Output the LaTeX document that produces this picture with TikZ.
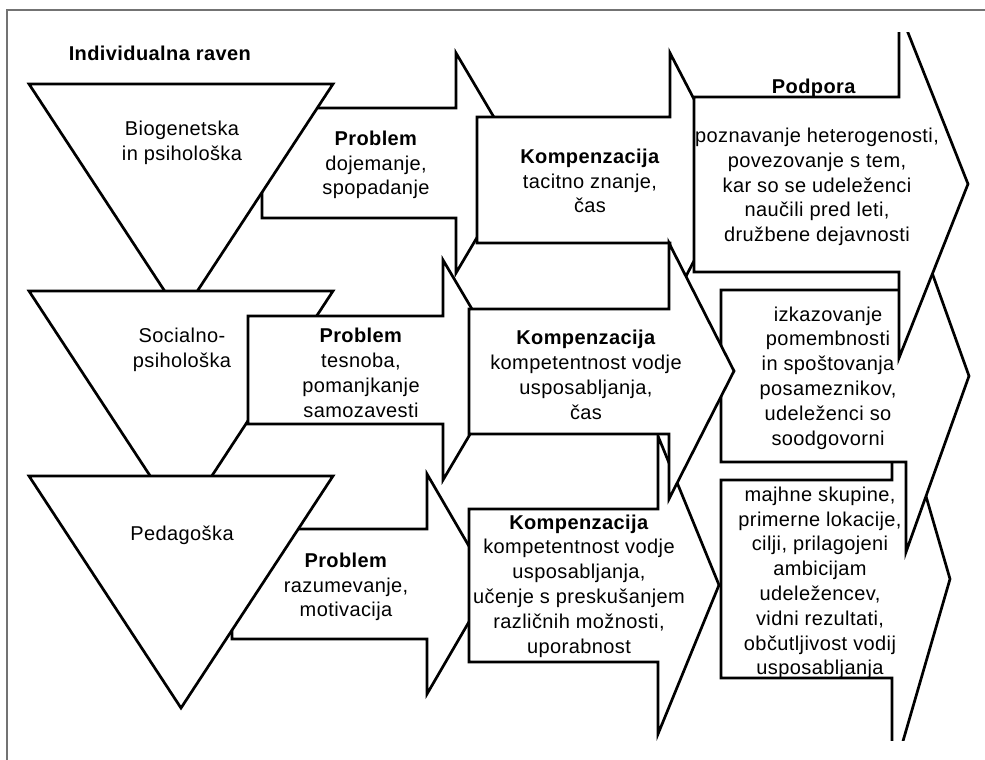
\documentclass[tikz,border=0pt]{standalone}
\usepackage{fontspec}
\setmainfont{Liberation Sans}[LetterSpace=2]

\begin{document}
\begin{tikzpicture}[x=0.5pt,y=-0.5pt,line width=1.35pt,line join=miter,
    blk/.style={draw=black,fill=white},
    bordline/.style={draw=black!55,line width=0.8pt},
    txt/.style={align=center,inner sep=0pt,font=\fontsize{10}{12.4}\selectfont}]
  \useasboundingbox (0,0) rectangle (985,760);
  \draw[bordline] (985,10) -- (7,10) -- (7,760);
  \begin{scope}
    \clip (0,32) rectangle (985,740);
    % problem arrows and the three levels
    \filldraw[blk] (262,108) -- (456,108) -- (456,53) -- (521,163) -- (456,273) -- (456,218) -- (262,218) -- cycle;
    \filldraw[blk] (29,84) -- (333,84) -- (181,316) -- cycle;
    \filldraw[blk] (29,291) -- (333,291) -- (181,523) -- cycle;
    \filldraw[blk] (248,316) -- (443,316) -- (443,260) -- (508,370) -- (443,480) -- (443,424) -- (248,424) -- cycle;
    \filldraw[blk] (232,529) -- (427,529) -- (427,474) -- (491,584) -- (427,694) -- (427,639) -- (232,639) -- cycle;
    \filldraw[blk] (29,476) -- (333,476) -- (181,708) -- cycle;
    % compensation and support arrows
    \filldraw[blk] (469,509) -- (658,509) -- (658,436) -- (719,585) -- (658,734) -- (658,662) -- (469,662) -- cycle;
    \filldraw[blk] (477,117) -- (670,117) -- (670,53) -- (736,180) -- (670,307) -- (670,243) -- (477,243) -- cycle;
    \filldraw[blk] (721,480) -- (892,480) -- (892,379) -- (950,579) -- (892,779) -- (892,678) -- (721,678) -- cycle;
    \filldraw[blk] (721,290) -- (906,290) -- (906,200) -- (969,376) -- (906,552) -- (906,462) -- (721,462) -- cycle;
    \filldraw[blk] (694,97) -- (899,97) -- (899,10) -- (968,184) -- (899,358) -- (899,272) -- (694,272) -- cycle;
    \filldraw[blk] (469,309) -- (669,309) -- (669,243) -- (734,371) -- (669,499) -- (669,434) -- (469,434) -- cycle;
  \end{scope}
  \node (heading) at (160,53) [txt] {\textbf{Individualna raven}};
  \node (bio) at (182,143) [txt] {Biogenetska\\in psihološka};
  \node (socpsi) at (182,350) [txt] {Socialno-\\psihološka};
  \node (ped) at (182,535) [txt] {Pedagoška};
  \node (prob1) at (376,165) [txt] {\textbf{Problem}\\dojemanje,\\spopadanje};
  \node (prob2) at (361,373) [txt] {\textbf{Problem}\\tesnoba,\\pomanjkanje\\samozavesti};
  \node (prob3) at (346,587) [txt] {\textbf{Problem}\\razumevanje,\\motivacija};
  \node (komp1) at (590,181) [txt] {\textbf{Kompenzacija}\\tacitno znanje,\\čas};
  \node (komp2) at (586,375) [txt] {\textbf{Kompenzacija}\\kompetentnost vodje\\usposabljanja,\\čas};
  \node (komp3) at (579,586) [txt] {\textbf{Kompenzacija}\\kompetentnost vodje\\usposabljanja,\\učenje s preskušanjem\\različnih možnosti,\\uporabnost};
  \node (podpora) at (814,93) [txt,anchor=base] {\textbf{Podpora}};
  \node (sup1) at (817,187) [txt] {poznavanje heterogenosti,\\povezovanje s tem,\\kar so se udeleženci\\naučili pred leti,\\družbene dejavnosti};
  \node (sup2) at (828,378) [txt] {izkazovanje\\pomembnosti\\in spoštovanja\\posameznikov,\\udeleženci so\\soodgovorni};
  \node (sup3) at (820,583) [txt] {majhne skupine,\\primerne lokacije,\\cilji, prilagojeni\\ambicijam\\udeležencev,\\vidni rezultati,\\občutljivost vodij\\usposabljanja};
\end{tikzpicture}
\end{document}
